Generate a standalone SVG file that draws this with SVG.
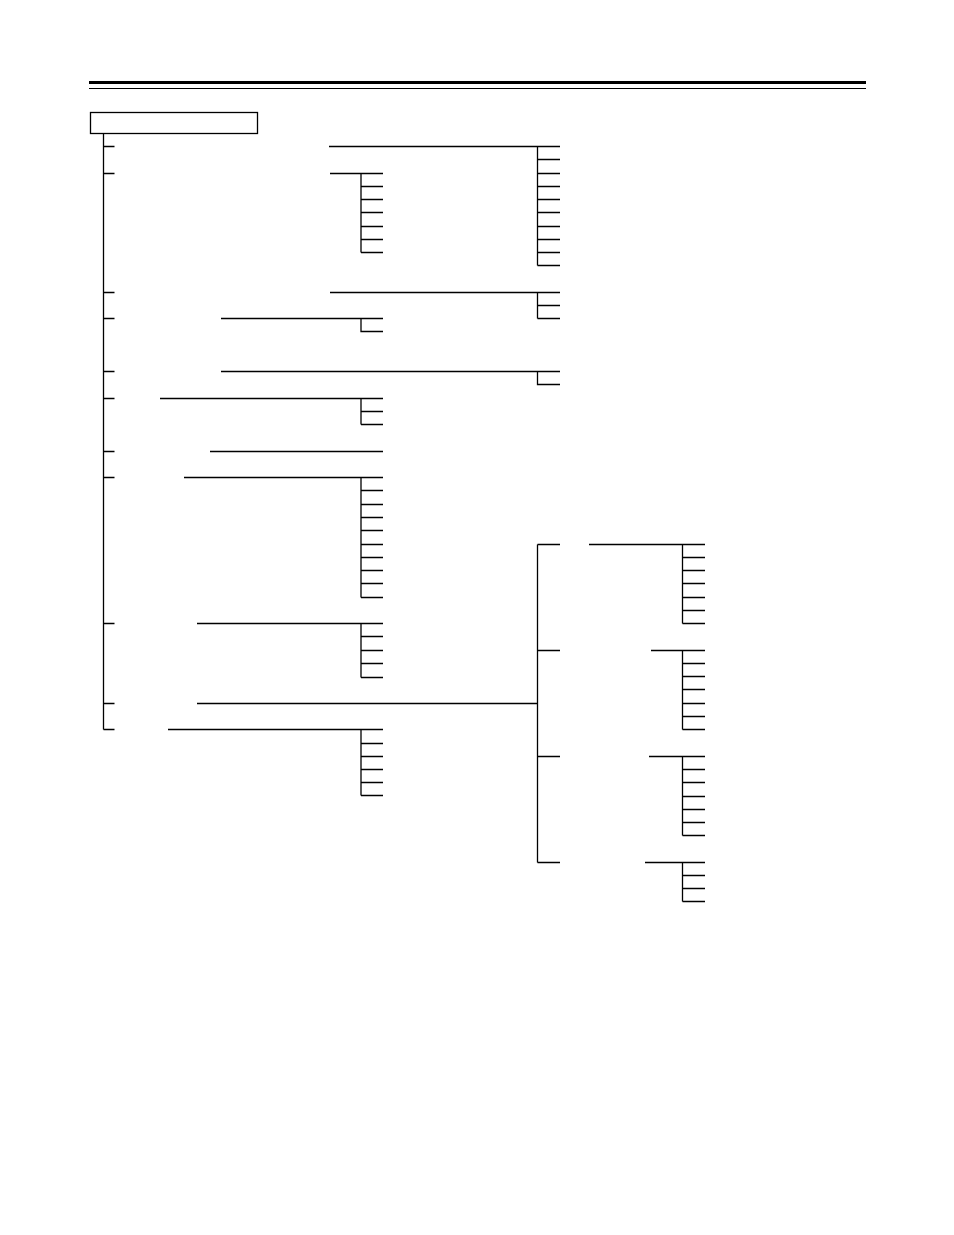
<svg xmlns="http://www.w3.org/2000/svg" width="954" height="1235" viewBox="0 0 954 1235">
<style>
.ln{fill:none;stroke:#000;stroke-width:1.3;stroke-linecap:butt}
.box{fill:#fff;stroke:#000;stroke-width:1.3}
</style>
<rect x="0" y="0" width="954" height="1235" fill="#fff"/>
<g id="header">
<line x1="89" y1="82.5" x2="866" y2="82.5" stroke="#000" stroke-width="3"/>
<line x1="89" y1="88.5" x2="866" y2="88.5" stroke="#000" stroke-width="1"/>
</g>
<g id="root"><rect class="box" x="90.5" y="112.5" width="167" height="21"/></g>
<g id="connectors">
<path class="ln" d="M103.5 133.5V729.5M103.5 146.5H114.5M103.5 173.5H114.5M103.5 292.5H114.5M103.5 318.5H114.5M103.5 371.5H114.5M103.5 398.5H114.5M103.5 451.5H114.5M103.5 477.5H114.5M103.5 623.5H114.5M103.5 703.5H114.5M103.5 729.5H114.5"/>
</g>
<g id="n1"><path class="ln" d="M329 146.5H560M537.5 146.5V265.5M537.5 159.5H560M537.5 173.5H560M537.5 186.5H560M537.5 199.5H560M537.5 212.5H560M537.5 226.5H560M537.5 239.5H560M537.5 252.5H560M537.5 265.5H560"/></g>
<g id="n2"><path class="ln" d="M330 173.5H383M361 173.5V252.5M361 186.5H383M361 199.5H383M361 212.5H383M361 226.5H383M361 239.5H383M361 252.5H383"/></g>
<g id="n3"><path class="ln" d="M330 292.5H560M537.5 292.5V318.5M537.5 305.5H560M537.5 318.5H560"/></g>
<g id="n4"><path class="ln" d="M221 318.5H383M361 318.5V331.5H383"/></g>
<g id="n5"><path class="ln" d="M221 371.5H560M537.5 371.5V384.5H560"/></g>
<g id="n6"><path class="ln" d="M160 398.5H383M361 398.5V424.5M361 411.5H383M361 424.5H383"/></g>
<g id="n7"><path class="ln" d="M210 451.5H383"/></g>
<g id="n8"><path class="ln" d="M184 477.5H383M361 477.5V597.5M361 490.5H383M361 504.5H383M361 517.5H383M361 530.5H383M361 544.5H383M361 557.5H383M361 570.5H383M361 583.5H383M361 597.5H383"/></g>
<g id="n9"><path class="ln" d="M197 623.5H383M361 623.5V677.5M361 636.5H383M361 650.5H383M361 663.5H383M361 677.5H383"/></g>
<g id="n10"><path class="ln" d="M197 703.5H537.5M537.5 544.5V862.5M537.5 544.5H560M537.5 650.5H560M537.5 756.5H560M537.5 862.5H560"/></g>
<g id="n10a"><path class="ln" d="M589 544.5H705M682.5 544.5V623.5M682.5 557.5H705M682.5 570.5H705M682.5 583.5H705M682.5 597.5H705M682.5 610.5H705M682.5 623.5H705"/></g>
<g id="n10b"><path class="ln" d="M651 650.5H705M682.5 650.5V729.5M682.5 663.5H705M682.5 676.5H705M682.5 689.5H705M682.5 703.5H705M682.5 716.5H705M682.5 729.5H705"/></g>
<g id="n10c"><path class="ln" d="M649 756.5H705M682.5 756.5V835.5M682.5 769.5H705M682.5 782.5H705M682.5 796.5H705M682.5 809.5H705M682.5 822.5H705M682.5 835.5H705"/></g>
<g id="n10d"><path class="ln" d="M645 862.5H705M682.5 862.5V901.5M682.5 875.5H705M682.5 888.5H705M682.5 901.5H705"/></g>
<g id="n11"><path class="ln" d="M168 729.5H383M361 729.5V795.5M361 743.5H383M361 756.5H383M361 769.5H383M361 782.5H383M361 795.5H383"/></g>
</svg>
